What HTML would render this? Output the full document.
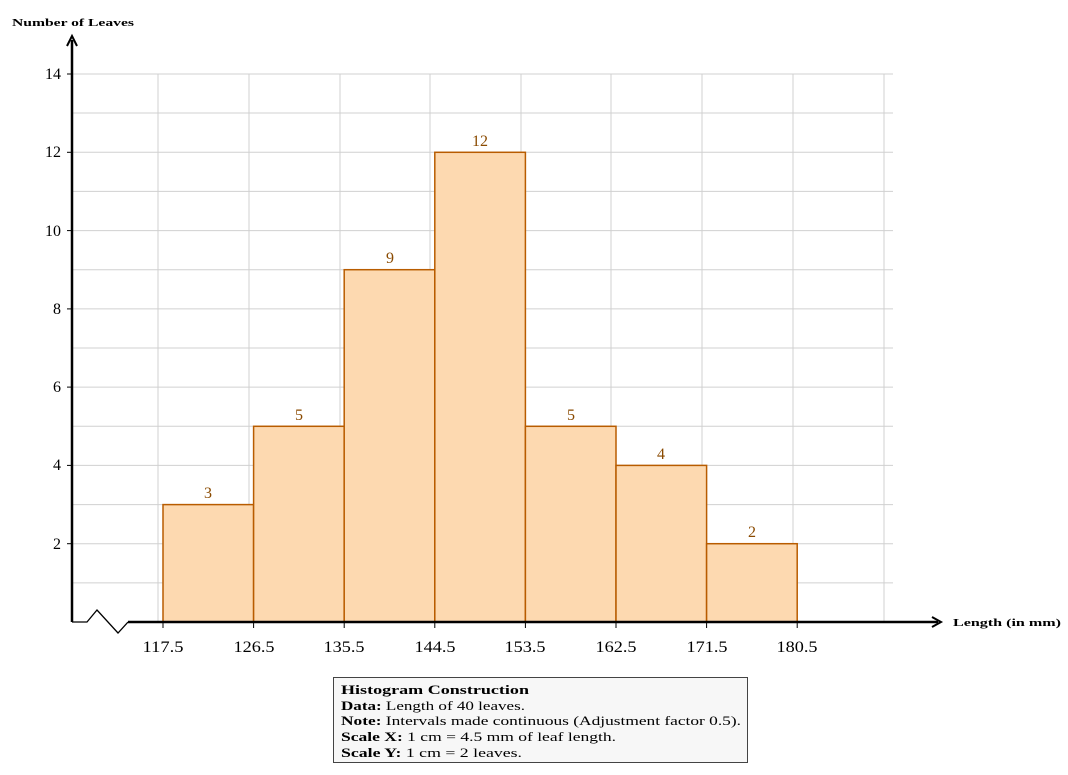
<!DOCTYPE html>
<html><head><meta charset="utf-8"><style>body{margin:0;background:#fff}svg{display:block}text{font-family:"Liberation Serif",serif}</style></head><body>
<svg width="1068" height="775" viewBox="0 0 1068 775" xmlns="http://www.w3.org/2000/svg">
<g stroke="#d0d0d0" stroke-width="1">
<line x1="72" y1="74" x2="893" y2="74"/><line x1="72" y1="113" x2="893" y2="113"/><line x1="72" y1="152.3" x2="893" y2="152.3"/><line x1="72" y1="191.4" x2="893" y2="191.4"/><line x1="72" y1="230.6" x2="893" y2="230.6"/><line x1="72" y1="269.7" x2="893" y2="269.7"/><line x1="72" y1="308.9" x2="893" y2="308.9"/><line x1="72" y1="348" x2="893" y2="348"/><line x1="72" y1="387.1" x2="893" y2="387.1"/><line x1="72" y1="426.3" x2="893" y2="426.3"/><line x1="72" y1="465.4" x2="893" y2="465.4"/><line x1="72" y1="504.6" x2="893" y2="504.6"/><line x1="72" y1="543.7" x2="893" y2="543.7"/><line x1="72" y1="582.9" x2="893" y2="582.9"/>
<line x1="158" y1="74" x2="158" y2="622"/><line x1="249" y1="74" x2="249" y2="622"/><line x1="340" y1="74" x2="340" y2="622"/><line x1="430" y1="74" x2="430" y2="622"/><line x1="521" y1="74" x2="521" y2="622"/><line x1="611" y1="74" x2="611" y2="622"/><line x1="702" y1="74" x2="702" y2="622"/><line x1="793" y1="74" x2="793" y2="622"/><line x1="884" y1="74" x2="884" y2="622"/>
</g>
<g fill="#fdd9b0" stroke="#b85c00" stroke-width="1.5">
<rect x="163" y="504.6" width="90.6" height="117.4"/>
<rect x="253.6" y="426.3" width="90.6" height="195.7"/>
<rect x="344.2" y="269.7" width="90.6" height="352.3"/>
<rect x="434.8" y="152.3" width="90.6" height="469.7"/>
<rect x="525.4" y="426.3" width="90.6" height="195.7"/>
<rect x="616" y="465.4" width="90.6" height="156.6"/>
<rect x="706.6" y="543.7" width="90.6" height="78.3"/>
</g>
<g fill="#8a4a00" font-size="16" text-anchor="middle">
<text x="208" y="498">3</text><text x="299" y="420">5</text><text x="390" y="263">9</text><text x="480" y="146">12</text><text x="571" y="420">5</text><text x="661" y="459">4</text><text x="752" y="537">2</text>
</g>
<g stroke="#000">
<line x1="72" y1="622" x2="72" y2="40" stroke-width="2.5"/>
<polyline points="67,46 72,36 77,46" fill="none" stroke-width="2"/>
<polyline points="72,622 87,622 97,610 118,633 128,622" fill="none" stroke-width="1.3"/>
<line x1="128" y1="622" x2="938" y2="622" stroke-width="2.5"/>
<polyline points="932,617 941,622 932,627" fill="none" stroke-width="2"/>
<g stroke-width="1"><line x1="163" y1="622" x2="163" y2="628"/><line x1="253.6" y1="622" x2="253.6" y2="628"/><line x1="344.2" y1="622" x2="344.2" y2="628"/><line x1="434.8" y1="622" x2="434.8" y2="628"/><line x1="525.4" y1="622" x2="525.4" y2="628"/><line x1="616" y1="622" x2="616" y2="628"/><line x1="706.6" y1="622" x2="706.6" y2="628"/><line x1="797.2" y1="622" x2="797.2" y2="628"/>
<line x1="67" y1="74" x2="72" y2="74"/><line x1="67" y1="152.3" x2="72" y2="152.3"/><line x1="67" y1="230.6" x2="72" y2="230.6"/><line x1="67" y1="308.9" x2="72" y2="308.9"/><line x1="67" y1="387.1" x2="72" y2="387.1"/><line x1="67" y1="465.4" x2="72" y2="465.4"/><line x1="67" y1="543.7" x2="72" y2="543.7"/></g>
</g>
<g font-size="16" text-anchor="middle" fill="#000">
<text x="163" y="652" textLength="41" lengthAdjust="spacingAndGlyphs">117.5</text><text x="254" y="652" textLength="41" lengthAdjust="spacingAndGlyphs">126.5</text><text x="344" y="652" textLength="41" lengthAdjust="spacingAndGlyphs">135.5</text><text x="435" y="652" textLength="41" lengthAdjust="spacingAndGlyphs">144.5</text><text x="525" y="652" textLength="41" lengthAdjust="spacingAndGlyphs">153.5</text><text x="616" y="652" textLength="41" lengthAdjust="spacingAndGlyphs">162.5</text><text x="707" y="652" textLength="41" lengthAdjust="spacingAndGlyphs">171.5</text><text x="797" y="652" textLength="41" lengthAdjust="spacingAndGlyphs">180.5</text>
</g>
<g font-size="16" text-anchor="end" fill="#000">
<text x="61" y="79">14</text><text x="61" y="157">12</text><text x="61" y="236">10</text><text x="61" y="314">8</text><text x="61" y="392">6</text><text x="61" y="470">4</text><text x="61" y="549">2</text>
</g>
<text x="12" y="26" font-size="11" font-weight="bold" textLength="122" lengthAdjust="spacingAndGlyphs">Number of Leaves</text>
<text x="953" y="626" font-size="11" font-weight="bold" textLength="108" lengthAdjust="spacingAndGlyphs">Length (in mm)</text>
<rect x="333.5" y="677.5" width="414" height="85" fill="#f7f7f7" stroke="#444" stroke-width="1"/>
<g font-size="13" fill="#000">
<text x="341" y="694" font-weight="bold" textLength="188" lengthAdjust="spacingAndGlyphs">Histogram Construction</text>
<text x="341" y="710" textLength="184" lengthAdjust="spacingAndGlyphs"><tspan font-weight="bold">Data:</tspan> Length of 40 leaves.</text>
<text x="341" y="725" textLength="400" lengthAdjust="spacingAndGlyphs"><tspan font-weight="bold">Note:</tspan> Intervals made continuous (Adjustment factor 0.5).</text>
<text x="341" y="741" textLength="275" lengthAdjust="spacingAndGlyphs"><tspan font-weight="bold">Scale X:</tspan> 1 cm = 4.5 mm of leaf length.</text>
<text x="341" y="757" textLength="181" lengthAdjust="spacingAndGlyphs"><tspan font-weight="bold">Scale Y:</tspan> 1 cm = 2 leaves.</text>
</g>
</svg>
</body></html>
